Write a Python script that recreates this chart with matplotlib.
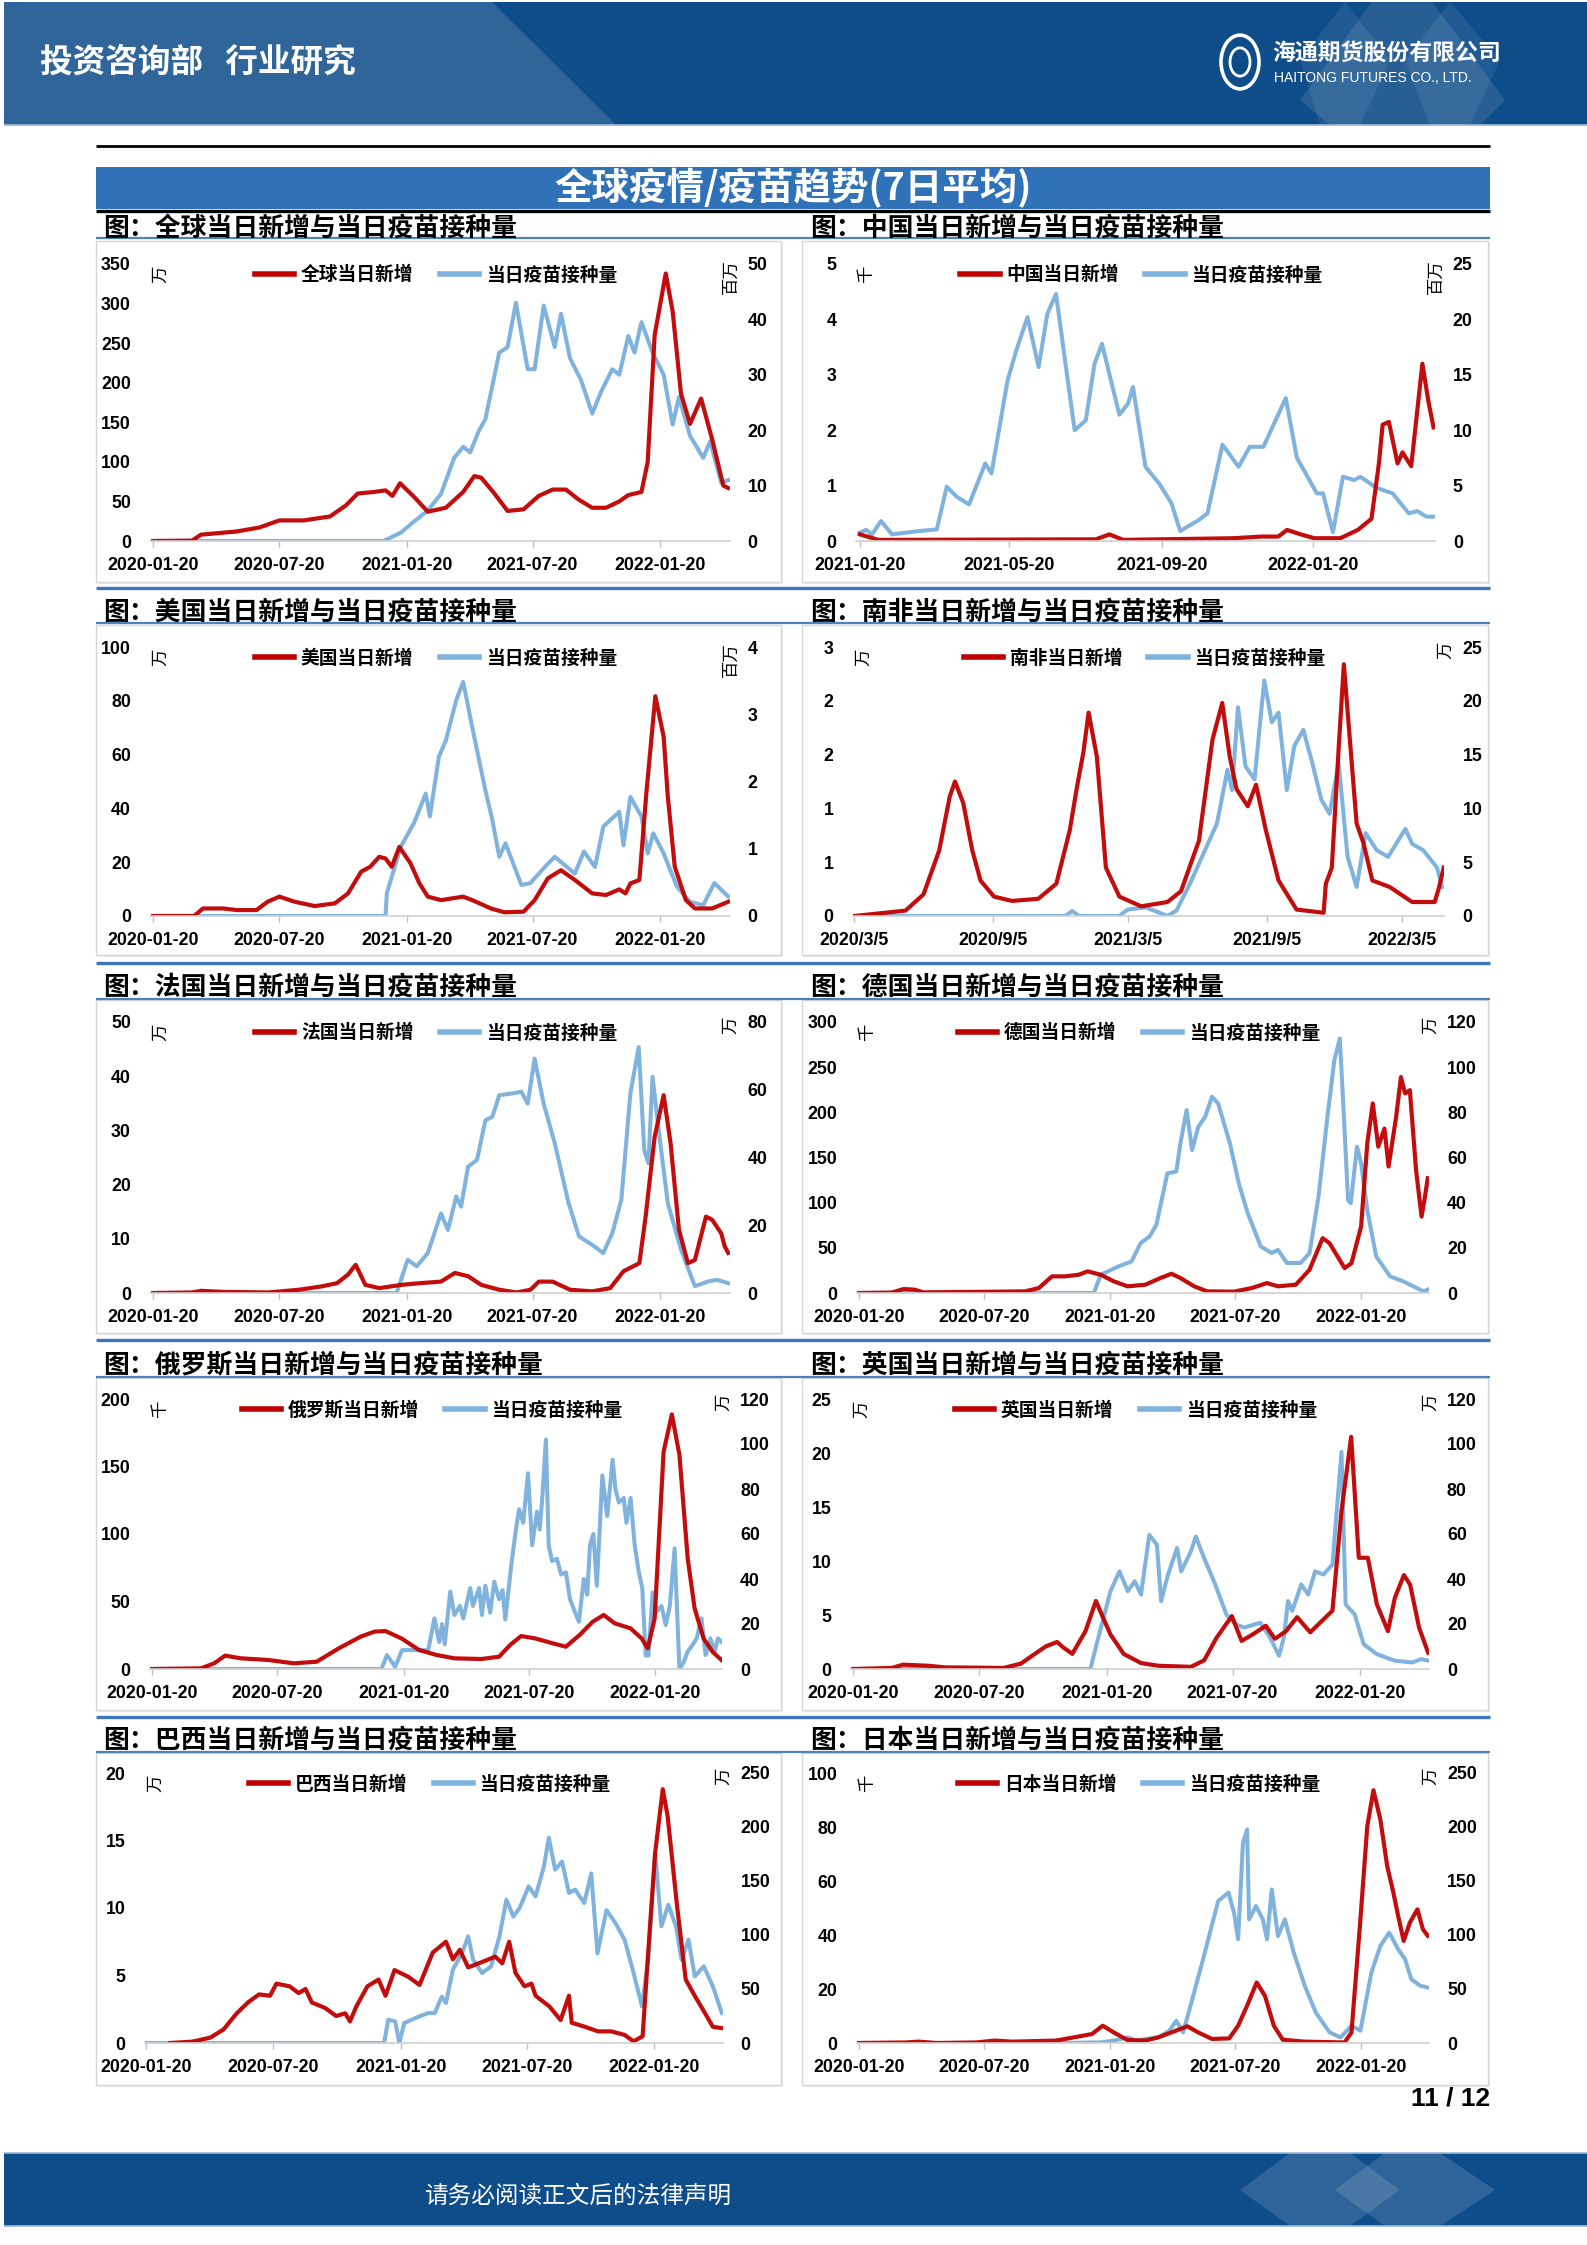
import numpy as np
import matplotlib
matplotlib.use('Agg')
import matplotlib.pyplot as plt
from matplotlib.patches import Rectangle, Polygon, Circle
from matplotlib.lines import Line2D
from matplotlib.font_manager import FontProperties

plt.rcParams['font.family'] = ['Noto Sans CJK SC', 'DejaVu Sans']
plt.rcParams['axes.unicode_minus'] = False
CJK = ['Noto Sans CJK SC', 'DejaVu Sans']
NUM = ['Liberation Sans', 'DejaVu Sans']

# ---------------------------------------------------------------- data
HALF_YEAR_TICKS = ['2020-01-20', '2020-07-20', '2021-01-20', '2021-07-20', '2022-01-20']
CHN_TICKS = ['2021-01-20', '2021-05-20', '2021-09-20', '2022-01-20']
SA_TICKS = ['2020-03-05', '2020-09-05', '2021-03-05', '2021-09-05', '2022-03-05']
SA_TICK_LABELS = ['2020/3/5', '2020/9/5', '2021/3/5', '2021/9/5', '2022/3/5']
SA_LEFT_LABELS = ['0', '1', '1', '2', '2', '3']

# Global (万 / 百万)
GLB_CASE_DATES = ['2020-01-20', '2020-03-16', '2020-03-29', '2020-05-19', '2020-06-21', '2020-07-20', '2020-08-24',
                  '2020-10-01', '2020-10-24', '2020-11-10', '2020-12-04', '2020-12-20', '2020-12-30', '2021-01-10',
                  '2021-01-31', '2021-02-19', '2021-03-17', '2021-04-11', '2021-04-27', '2021-05-07', '2021-05-26',
                  '2021-06-14', '2021-07-07', '2021-07-29', '2021-08-18', '2021-09-06', '2021-09-25', '2021-10-14',
                  '2021-11-03', '2021-11-22', '2021-12-05', '2021-12-24', '2022-01-02', '2022-01-12', '2022-01-28',
                  '2022-02-07', '2022-02-19', '2022-03-04', '2022-03-20', '2022-04-05', '2022-04-21', '2022-04-28']
GLB_CASE = [0, 0.5, 8, 12, 17, 26, 26, 31, 45, 60, 62, 64, 57, 73, 55, 37, 42, 62, 82, 80, 60, 38, 40, 57, 65, 65,
            52, 42, 42, 50, 58, 62, 100, 260, 338, 290, 186, 148, 180, 128, 70, 67]
GLB_VAC_DATES = ['2020-01-20', '2020-12-17', '2021-01-11', '2021-01-30', '2021-02-19', '2021-03-10', '2021-03-29',
                 '2021-04-11', '2021-04-21', '2021-05-04', '2021-05-13', '2021-06-02', '2021-06-14', '2021-06-26',
                 '2021-07-13', '2021-07-23', '2021-08-05', '2021-08-21', '2021-08-30', '2021-09-12', '2021-09-28',
                 '2021-10-14', '2021-10-27', '2021-11-12', '2021-11-22', '2021-12-05', '2021-12-14', '2021-12-24',
                 '2022-01-09', '2022-01-25', '2022-02-07', '2022-02-16', '2022-03-04', '2022-03-23', '2022-04-02',
                 '2022-04-18', '2022-04-28']
GLB_VAC = [0, 0, 1.5, 3.5, 5.5, 8.5, 15, 17, 16, 20, 22, 34, 35, 43, 31, 31, 42.5, 35, 41, 33, 29, 23, 27, 31, 30,
           37, 34, 39.5, 34, 30, 21, 26, 19, 15, 18, 10.5, 11]

# China (千 / 百万)
CHN_CASE_DATES = ['2021-01-20', '2021-02-04', '2021-07-29', '2021-08-09', '2021-08-20', '2021-11-17', '2021-12-09',
                  '2021-12-23', '2021-12-30', '2022-01-10', '2022-01-21', '2022-02-11', '2022-02-25', '2022-03-08',
                  '2022-03-14', '2022-03-17', '2022-03-22', '2022-03-29', '2022-04-02', '2022-04-09', '2022-04-18',
                  '2022-04-23', '2022-04-27']
CHN_CASE = [0.12, 0.02, 0.03, 0.12, 0.02, 0.05, 0.08, 0.08, 0.2, 0.12, 0.05, 0.05, 0.2, 0.4, 1.4, 2.1, 2.15, 1.4,
            1.6, 1.35, 3.2, 2.5, 2.05]
CHN_VAC_DATES = ['2021-01-20', '2021-01-25', '2021-01-30', '2021-02-06', '2021-02-15', '2021-03-09', '2021-03-23',
                 '2021-03-31', '2021-04-08', '2021-04-18', '2021-05-01', '2021-05-06', '2021-05-19', '2021-05-26',
                 '2021-06-04', '2021-06-13', '2021-06-20', '2021-06-27', '2021-07-05', '2021-07-12', '2021-07-21',
                 '2021-07-28', '2021-08-03', '2021-08-17', '2021-08-24', '2021-08-28', '2021-09-07', '2021-09-18',
                 '2021-09-28', '2021-10-05', '2021-10-20', '2021-10-27', '2021-11-08', '2021-11-21', '2021-11-30',
                 '2021-12-11', '2021-12-29', '2022-01-07', '2022-01-23', '2022-01-28', '2022-02-05', '2022-02-13',
                 '2022-02-22', '2022-02-27', '2022-03-12', '2022-03-25', '2022-04-07', '2022-04-14', '2022-04-21',
                 '2022-04-27']
CHN_VAC = [0.75, 1.0, 0.6, 1.8, 0.6, 0.9, 1.05, 4.9, 4.0, 3.3, 7.0, 6.1, 14.5, 17.2, 20.2, 15.7, 20.5, 22.3, 15.7,
           10.0, 10.9, 16, 17.8, 11.4, 12.4, 13.9, 6.7, 5.2, 3.4, 0.9, 1.9, 2.5, 8.7, 6.7, 8.5, 8.5, 12.9, 7.5, 4.3,
           4.3, 0.8, 5.8, 5.5, 5.8, 4.8, 4.3, 2.5, 2.7, 2.2, 2.2]

# USA (万 / 百万)
USA_CASE_DATES = ['2020-01-20', '2020-03-19', '2020-04-01', '2020-04-30', '2020-05-20', '2020-06-17', '2020-07-03',
                  '2020-07-20', '2020-08-11', '2020-09-09', '2020-10-08', '2020-10-27', '2020-11-15', '2020-11-28',
                  '2020-12-11', '2020-12-20', '2020-12-29', '2021-01-09', '2021-01-25', '2021-02-07', '2021-02-19',
                  '2021-03-10', '2021-04-11', '2021-04-24', '2021-05-21', '2021-06-09', '2021-07-07', '2021-07-23',
                  '2021-08-11', '2021-08-30', '2021-09-19', '2021-10-14', '2021-11-03', '2021-11-22', '2021-12-01',
                  '2021-12-08', '2021-12-21', '2021-12-31', '2022-01-13', '2022-01-25', '2022-01-31', '2022-02-10',
                  '2022-02-26', '2022-03-11', '2022-04-05', '2022-04-28']
USA_CASE = [0, 0, 2.8, 2.8, 2.2, 2.2, 5.3, 7.2, 5.3, 3.7, 4.7, 8.4, 16.5, 18.3, 22, 21.4, 18.3, 25.7, 19.6, 12.1,
            7.2, 5.9, 7.2, 5.9, 2.8, 1.4, 1.6, 5.9, 14, 17, 13.4, 8.4, 7.8, 9.9, 8.4, 12.1, 13.4, 45.5, 81.7, 66.6,
            44.3, 18.3, 5.9, 2.8, 2.8, 5.3]
USA_VAC_DATES = ['2020-01-20', '2020-12-20', '2020-12-22', '2021-01-11', '2021-01-30', '2021-02-16', '2021-02-22',
                 '2021-03-07', '2021-03-17', '2021-04-01', '2021-04-11', '2021-04-24', '2021-05-13', '2021-05-23',
                 '2021-06-02', '2021-06-11', '2021-07-04', '2021-07-17', '2021-08-05', '2021-08-21', '2021-09-19',
                 '2021-10-02', '2021-10-18', '2021-10-30', '2021-11-22', '2021-11-28', '2021-12-08', '2021-12-24',
                 '2022-01-02', '2022-01-10', '2022-01-25', '2022-02-13', '2022-03-04', '2022-03-23', '2022-04-08',
                 '2022-04-28']
USA_VAC = [0, 0, 0.34, 1.03, 1.38, 1.82, 1.48, 2.37, 2.61, 3.21, 3.48, 2.81, 1.87, 1.43, 0.88, 1.08, 0.46, 0.49,
           0.71, 0.88, 0.63, 0.96, 0.73, 1.33, 1.55, 1.05, 1.77, 1.48, 0.93, 1.23, 0.93, 0.44, 0.21, 0.16, 0.49, 0.29]

# South Africa (万 / 万)
ZAF_CASE_DATES = ['2020-03-05', '2020-05-12', '2020-06-05', '2020-06-26', '2020-07-10', '2020-07-17', '2020-07-28',
                  '2020-08-09', '2020-08-20', '2020-09-07', '2020-10-01', '2020-11-05', '2020-11-29', '2020-12-17',
                  '2020-12-26', '2021-01-04', '2021-01-11', '2021-01-22', '2021-02-03', '2021-02-21', '2021-03-22',
                  '2021-04-26', '2021-05-14', '2021-06-07', '2021-06-25', '2021-07-08', '2021-07-18', '2021-07-27',
                  '2021-08-11', '2021-08-22', '2021-09-04', '2021-09-21', '2021-10-15', '2021-11-20', '2021-11-23',
                  '2021-12-01', '2021-12-10', '2021-12-17', '2021-12-25', '2022-01-03', '2022-01-12', '2022-01-24',
                  '2022-02-16', '2022-03-18', '2022-04-17', '2022-04-23', '2022-04-29']
ZAF_CASE = [0, 0.05, 0.2, 0.61, 1.11, 1.25, 1.05, 0.61, 0.33, 0.18, 0.14, 0.16, 0.3, 0.8, 1.18, 1.52, 1.89, 1.48,
            0.45, 0.18, 0.09, 0.13, 0.23, 0.7, 1.64, 1.98, 1.48, 1.18, 1.02, 1.22, 0.8, 0.33, 0.06, 0.03, 0.3, 0.45,
            1.55, 2.34, 1.64, 0.86, 0.68, 0.33, 0.27, 0.13, 0.13, 0.27, 0.45]
ZAF_VAC_DATES = ['2020-03-05', '2020-12-11', '2020-12-20', '2020-12-29', '2021-02-21', '2021-03-04', '2021-03-28',
                 '2021-04-08', '2021-04-26', '2021-05-08', '2021-05-26', '2021-06-13', '2021-07-01', '2021-07-15',
                 '2021-07-21', '2021-07-29', '2021-08-08', '2021-08-20', '2021-09-02', '2021-09-12', '2021-09-21',
                 '2021-10-02', '2021-10-12', '2021-10-24', '2021-11-05', '2021-11-17', '2021-11-28', '2021-12-10',
                 '2021-12-22', '2022-01-03', '2022-01-15', '2022-01-30', '2022-02-14', '2022-03-09', '2022-03-18',
                 '2022-04-02', '2022-04-20', '2022-04-27']
ZAF_VAC = [0, 0, 0.47, 0, 0, 0.6, 0.8, 0.5, 0, 0.5, 3, 5.8, 8.6, 13.6, 11.7, 19.4, 13.9, 12.7, 21.9, 18, 18.9, 11.7,
           15.8, 17.3, 14.2, 10.8, 9.5, 14.2, 5.5, 2.7, 7.7, 6.1, 5.5, 8.1, 6.7, 6.1, 4.5, 2.7]

# France (万 / 万)
FRA_CASE_DATES = ['2020-01-20', '2020-03-16', '2020-03-29', '2020-05-01', '2020-07-04', '2020-08-17', '2020-09-18',
                  '2020-10-11', '2020-10-27', '2020-11-07', '2020-11-21', '2020-12-11', '2021-01-12', '2021-02-06',
                  '2021-03-10', '2021-03-30', '2021-04-18', '2021-05-07', '2021-06-02', '2021-06-27', '2021-07-17',
                  '2021-07-29', '2021-08-18', '2021-09-12', '2021-10-14', '2021-11-09', '2021-11-28', '2021-12-21',
                  '2021-12-30', '2022-01-12', '2022-01-25', '2022-02-04', '2022-02-16', '2022-03-01', '2022-03-11',
                  '2022-03-27', '2022-04-05', '2022-04-18', '2022-04-23', '2022-04-28']
FRA_CASE = [0, 0.1, 0.4, 0.2, 0.1, 0.6, 1.2, 1.8, 3.4, 5.2, 1.5, 0.9, 1.5, 1.8, 2.1, 3.7, 3.1, 1.5, 0.6, 0.1, 0.6,
            2.1, 2.1, 0.6, 0.3, 0.9, 4, 5.5, 14.1, 28.8, 36.5, 27.6, 11.7, 5.5, 6.1, 14.1, 13.5, 11, 8.6, 7.4]
FRA_VAC_DATES = ['2020-01-20', '2021-01-05', '2021-01-21', '2021-02-03', '2021-02-19', '2021-03-10', '2021-03-20',
                 '2021-04-01', '2021-04-08', '2021-04-18', '2021-05-01', '2021-05-13', '2021-05-23', '2021-06-02',
                 '2021-06-21', '2021-07-04', '2021-07-13', '2021-07-23', '2021-08-05', '2021-08-21', '2021-09-10',
                 '2021-09-25', '2021-10-14', '2021-10-30', '2021-11-12', '2021-11-25', '2021-12-08', '2021-12-20',
                 '2021-12-28', '2022-01-03', '2022-01-09', '2022-01-19', '2022-01-31', '2022-02-19', '2022-03-11',
                 '2022-03-30', '2022-04-12', '2022-04-28']
FRA_VAC = [0, 0, 9.8, 7.9, 11.8, 23.5, 18.6, 28.5, 25.5, 37.3, 39.3, 51, 52, 58.4, 58.9, 59.4, 55.9, 69.2, 55.9,
           44.2, 26.5, 16.7, 14.2, 11.8, 17.7, 27.5, 58.9, 72.6, 42.2, 38.3, 63.8, 46.1, 26.5, 12.8, 2, 3.4, 3.9, 2.9]

# Germany (千 / 万)
DEU_CASE_DATES = ['2020-01-20', '2020-03-08', '2020-03-25', '2020-04-10', '2020-04-23', '2020-09-18', '2020-10-08',
                  '2020-10-27', '2020-11-15', '2020-12-05', '2020-12-18', '2021-01-06', '2021-01-25', '2021-02-14',
                  '2021-03-12', '2021-04-03', '2021-04-19', '2021-05-02', '2021-05-22', '2021-06-10', '2021-07-19',
                  '2021-08-14', '2021-09-05', '2021-09-21', '2021-10-17', '2021-11-06', '2021-11-25', '2021-12-05',
                  '2021-12-27', '2022-01-06', '2022-01-20', '2022-01-29', '2022-02-06', '2022-02-14', '2022-02-23',
                  '2022-03-01', '2022-03-12', '2022-03-19', '2022-03-25', '2022-04-01', '2022-04-10', '2022-04-18',
                  '2022-04-23', '2022-04-27']
DEU_CASE = [0, 0.5, 4.4, 3.7, 0.7, 1.8, 5.5, 18.4, 18.4, 20.2, 24, 20.2, 12.9, 7.4, 9.2, 16.6, 21.3, 16.6, 7.4, 1.8,
            1.5, 5.5, 11, 7.4, 9.2, 25.8, 60.7, 55.2, 27.6, 33, 73.6, 165.6, 209.8, 162, 182, 140, 195, 239, 221,
            224.5, 136, 84.6, 106.7, 127]
DEU_VAC_DATES = ['2020-01-20', '2020-12-27', '2021-01-06', '2021-02-01', '2021-02-20', '2021-03-05', '2021-03-18',
                 '2021-03-28', '2021-04-13', '2021-04-26', '2021-05-02', '2021-05-11', '2021-05-19', '2021-05-28',
                 '2021-06-07', '2021-06-17', '2021-06-26', '2021-07-13', '2021-07-26', '2021-08-08', '2021-08-27',
                 '2021-09-12', '2021-09-21', '2021-10-04', '2021-10-24', '2021-11-06', '2021-11-19', '2021-12-02',
                 '2021-12-12', '2021-12-20', '2021-12-25', '2022-01-01', '2022-01-05', '2022-01-14', '2022-01-20',
                 '2022-01-29', '2022-02-11', '2022-03-03', '2022-03-22', '2022-04-11', '2022-04-21', '2022-04-27']
DEU_VAC = [0, 0, 8.1, 11.8, 14, 22.1, 25, 30.2, 53, 53.8, 66.3, 81, 63.3, 73.6, 78, 86.9, 83.9, 66.3, 48.6, 35.3,
           20.6, 17.7, 19.1, 13.3, 13.3, 17.7, 42.7, 78, 103, 112.7, 84, 41.2, 39.8, 64.8, 57.4, 36.8, 16.2, 7.4,
           5.2, 2.2, 0.7, 1.5]

# Russia (千 / 万)
RUS_CASE_DATES = ['2020-01-20', '2020-03-31', '2020-04-19', '2020-05-05', '2020-05-28', '2020-07-06', '2020-08-13',
                  '2020-09-15', '2020-10-17', '2020-11-18', '2020-12-08', '2020-12-24', '2021-01-16', '2021-02-11',
                  '2021-03-08', '2021-04-03', '2021-05-12', '2021-06-07', '2021-06-23', '2021-07-09', '2021-07-29',
                  '2021-08-24', '2021-09-12', '2021-10-02', '2021-10-21', '2021-11-06', '2021-11-22', '2021-12-15',
                  '2021-12-31', '2022-01-09', '2022-01-19', '2022-02-01', '2022-02-13', '2022-02-24', '2022-03-08',
                  '2022-03-18', '2022-03-31', '2022-04-13', '2022-04-26']
RUS_CASE = [0, 0.5, 4.2, 9.9, 7.9, 6.7, 4.2, 5.4, 15.3, 24, 27.7, 28.1, 22.7, 14, 10.4, 7.9, 7.4, 9.1, 17.8, 24.4,
            22.7, 19, 16.5, 25.2, 35, 40, 33.8, 30.1, 22.7, 15.3, 37.5, 161, 188.6, 158.5, 82, 45, 22.7, 12.8, 6.7]
RUS_VAC_DATES = ['2020-01-20', '2020-12-18', '2020-12-26', '2021-01-07', '2021-01-17', '2021-02-24', '2021-03-05',
                 '2021-03-12', '2021-03-16', '2021-03-20', '2021-03-28', '2021-04-03', '2021-04-11', '2021-04-16',
                 '2021-04-26', '2021-04-30', '2021-05-09', '2021-05-13', '2021-05-18', '2021-05-25', '2021-05-31',
                 '2021-06-07', '2021-06-12', '2021-06-16', '2021-06-25', '2021-07-01', '2021-07-06', '2021-07-12',
                 '2021-07-19', '2021-07-25', '2021-08-01', '2021-08-05', '2021-08-09', '2021-08-14', '2021-08-18',
                 '2021-08-23', '2021-08-30', '2021-09-05', '2021-09-12', '2021-09-18', '2021-09-25', '2021-10-01',
                 '2021-10-08', '2021-10-13', '2021-10-17', '2021-10-22', '2021-10-27', '2021-11-04', '2021-11-11',
                 '2021-11-19', '2021-11-23', '2021-11-28', '2021-12-05', '2021-12-09', '2021-12-15', '2021-12-21',
                 '2021-12-27', '2022-01-01', '2022-01-06', '2022-01-10', '2022-01-16', '2022-01-22', '2022-01-29',
                 '2022-02-04', '2022-02-10', '2022-02-17', '2022-02-20', '2022-02-24', '2022-03-02', '2022-03-08',
                 '2022-03-15', '2022-03-21', '2022-03-28', '2022-04-03', '2022-04-10', '2022-04-16', '2022-04-21',
                 '2022-04-26']
RUS_VAC = [0, 0, 6.2, 1, 8.4, 8.4, 22.5, 12, 20, 11, 34.4, 24, 28, 22.5, 36, 28, 36, 24, 37, 25, 38.8, 31, 35, 22,
           47, 61, 71, 65, 87, 55, 70, 62, 77, 102, 55, 48, 49, 42, 43, 31, 25.5, 21, 40, 33, 55, 60, 37, 86, 68, 93,
           80, 74, 76, 65, 76, 55, 43, 36, 6, 6, 34, 25.5, 28, 19.5, 28, 53.6, 30, 0, 3, 7.7, 10.7, 13.6, 22.5, 6.2,
           13.6, 7.7, 13.6, 12.1]

# UK (万 / 万)
GBR_CASE_DATES = ['2020-01-20', '2020-03-16', '2020-04-01', '2020-05-07', '2020-06-01', '2020-08-24', '2020-09-18',
                  '2020-10-08', '2020-10-24', '2020-11-09', '2020-11-18', '2020-12-01', '2020-12-20', '2021-01-04',
                  '2021-01-12', '2021-01-25', '2021-02-13', '2021-03-10', '2021-04-04', '2021-05-21', '2021-06-09',
                  '2021-06-27', '2021-07-19', '2021-08-02', '2021-08-18', '2021-09-06', '2021-09-19', '2021-10-05',
                  '2021-10-21', '2021-11-09', '2021-11-25', '2021-12-11', '2021-12-24', '2022-01-07', '2022-01-18',
                  '2022-01-31', '2022-02-13', '2022-03-01', '2022-03-11', '2022-03-24', '2022-04-02', '2022-04-15',
                  '2022-04-28']
GBR_CASE = [0, 0.1, 0.4, 0.3, 0.15, 0.1, 0.5, 1.4, 2.1, 2.5, 2, 1.4, 3.5, 6.3, 5.1, 3.2, 1.4, 0.55, 0.3, 0.2, 0.8,
            2.9, 4.9, 2.6, 3.2, 4, 2.8, 3.5, 4.8, 3.4, 4.4, 5.4, 14.6, 21.5, 10.3, 10.3, 6, 3.5, 6.6, 8.7, 7.8, 3.8,
            1.5]
GBR_VAC_DATES = ['2020-01-20', '2020-12-27', '2021-01-05', '2021-01-25', '2021-02-07', '2021-02-19', '2021-03-01',
                 '2021-03-10', '2021-03-22', '2021-04-02', '2021-04-08', '2021-04-18', '2021-05-01', '2021-05-07',
                 '2021-05-21', '2021-05-28', '2021-06-09', '2021-06-25', '2021-07-11', '2021-07-24', '2021-08-06',
                 '2021-08-29', '2021-09-12', '2021-09-25', '2021-10-02', '2021-10-08', '2021-10-14', '2021-10-27',
                 '2021-11-06', '2021-11-16', '2021-11-28', '2021-12-11', '2021-12-24', '2021-12-30', '2022-01-12',
                 '2022-01-25', '2022-02-13', '2022-03-11', '2022-04-05', '2022-04-18', '2022-04-28']
GBR_VAC = [0, 0, 11, 34.6, 43.4, 34.6, 39, 33.1, 59.6, 55.2, 30.2, 42, 53.8, 43.4, 52.3, 58.9, 49.3, 37.6, 24.3,
           19.9, 18.4, 20.6, 14, 5.9, 14, 30.2, 25.8, 37.6, 33.1, 43.4, 42, 46.4, 96.5, 28.7, 24.3, 11, 6.6, 3.7, 2.9,
           4.4, 3.7]

# Brazil (万 / 万)
BRA_CASE_DATES = ['2020-02-23', '2020-03-26', '2020-04-21', '2020-05-10', '2020-05-29', '2020-06-14', '2020-06-30',
                  '2020-07-16', '2020-07-25', '2020-08-13', '2020-08-26', '2020-09-05', '2020-09-14', '2020-10-03',
                  '2020-10-19', '2020-11-01', '2020-11-08', '2020-11-17', '2020-12-03', '2020-12-19', '2020-12-29',
                  '2021-01-11', '2021-01-31', '2021-02-16', '2021-03-07', '2021-03-26', '2021-04-05', '2021-04-15',
                  '2021-04-27', '2021-05-17', '2021-06-05', '2021-06-15', '2021-06-25', '2021-07-04', '2021-07-17',
                  '2021-07-27', '2021-08-02', '2021-08-22', '2021-09-07', '2021-09-19', '2021-09-23', '2021-10-12',
                  '2021-10-31', '2021-11-19', '2021-12-08', '2021-12-21', '2022-01-03', '2022-01-11', '2022-01-21',
                  '2022-02-01', '2022-02-08', '2022-02-21', '2022-03-06', '2022-03-19', '2022-04-04', '2022-04-14',
                  '2022-04-27']
BRA_CASE = [0, 0.1, 0.4, 1, 2.2, 3, 3.6, 3.5, 4.4, 4.2, 3.7, 4, 3, 2.6, 2, 2.2, 1.6, 2.7, 4.2, 4.7, 3.5, 5.4, 4.9,
            4.3, 6.7, 7.5, 6.2, 6.9, 5.6, 6, 6.4, 5.9, 7.5, 5.2, 4.2, 4.4, 3.5, 2.7, 1.7, 3.5, 1.5, 1.2, 0.86, 0.86,
            0.6, 0.12, 0.5, 6.7, 14.1, 18.8, 16.8, 10.4, 4.7, 3.5, 2.1, 1.2, 1.1]
BRA_VAC_DATES = ['2020-01-20', '2020-12-27', '2021-01-02', '2021-01-12', '2021-01-18', '2021-01-25', '2021-02-16',
                 '2021-03-01', '2021-03-10', '2021-03-20', '2021-03-26', '2021-04-05', '2021-04-18', '2021-04-27',
                 '2021-05-04', '2021-05-17', '2021-05-30', '2021-06-11', '2021-06-21', '2021-07-01', '2021-07-10',
                 '2021-07-23', '2021-08-02', '2021-08-14', '2021-08-21', '2021-08-30', '2021-09-09', '2021-09-19',
                 '2021-09-28', '2021-10-11', '2021-10-21', '2021-10-30', '2021-11-12', '2021-11-25', '2021-12-08',
                 '2021-12-21', '2022-01-02', '2022-01-11', '2022-01-21', '2022-01-30', '2022-02-09', '2022-02-20',
                 '2022-02-28', '2022-03-10', '2022-03-19', '2022-04-01', '2022-04-14', '2022-04-27']
BRA_VAC = [0, 0, 21.6, 20, 0, 18.5, 24.7, 27.8, 27.8, 43, 37, 68, 83, 98.8, 77.2, 64.8, 71, 98.8, 132.7, 117, 125,
           145, 135.8, 163.6, 190, 160.5, 168, 139, 142, 129.6, 157, 83, 123, 111, 95.7, 64.8, 34, 77.2, 176, 108,
           128, 108, 77.2, 95.7, 61.7, 71, 52.5, 27.8]

# Japan (千 / 万)
JPN_CASE_DATES = ['2020-01-20', '2020-03-28', '2020-04-16', '2020-05-12', '2020-07-09', '2020-08-04', '2020-08-30',
                  '2020-11-02', '2020-11-28', '2020-12-24', '2021-01-09', '2021-01-25', '2021-02-14', '2021-03-12',
                  '2021-03-31', '2021-04-26', '2021-05-12', '2021-05-28', '2021-06-17', '2021-07-12', '2021-07-25',
                  '2021-08-07', '2021-08-21', '2021-09-02', '2021-09-15', '2021-09-28', '2021-10-30', '2021-12-27',
                  '2022-01-06', '2022-01-19', '2022-01-29', '2022-02-07', '2022-02-17', '2022-02-27', '2022-03-08',
                  '2022-03-15', '2022-03-23', '2022-04-01', '2022-04-12', '2022-04-20', '2022-04-27']
JPN_CASE = [0, 0.2, 0.5, 0, 0.2, 0.9, 0.5, 0.9, 2.1, 3.3, 6.4, 3.9, 1.1, 0.9, 2.1, 4.6, 6.2, 3.9, 1.5, 1.7, 6.4,
            13.8, 22.4, 17.5, 6.4, 1.2, 0.5, 0.2, 3.9, 45.8, 80.3, 93.6, 82.8, 65.5, 55.7, 47, 37.8, 44.6, 49.5,
            42.1, 39.7]
JPN_VAC_DATES = ['2020-01-20', '2020-11-02', '2021-01-06', '2021-01-25', '2021-02-14', '2021-02-27', '2021-03-12',
                 '2021-03-31', '2021-04-16', '2021-04-26', '2021-05-06', '2021-05-18', '2021-06-04', '2021-06-26',
                 '2021-07-11', '2021-07-19', '2021-07-25', '2021-08-01', '2021-08-07', '2021-08-10', '2021-08-20',
                 '2021-08-30', '2021-09-05', '2021-09-12', '2021-09-21', '2021-10-01', '2021-10-14', '2021-10-30',
                 '2021-11-15', '2021-12-05', '2021-12-21', '2022-01-06', '2022-01-19', '2022-02-04', '2022-02-17',
                 '2022-03-02', '2022-03-15', '2022-03-25', '2022-04-03', '2022-04-16', '2022-04-27']
JPN_VAC = [0, 0, 0.6, 2.2, 5.2, 2.2, 3.7, 5.2, 11.4, 20.6, 9.9, 37.6, 77.6, 131.5, 139.2, 120.7, 96, 185.3, 197.7,
           114.5, 126.8, 114.5, 96, 142.2, 99, 114.5, 83.7, 53, 28.3, 9.9, 5.2, 16, 11.4, 65.3, 89.9, 102.2, 86.8,
           77.6, 59.1, 53, 51.4]

# ---------------------------------------------------------------- figure helpers
W, H = 1587, 2245
RED = '#C00000'
BLUE = '#7FB3DE'
DARK = '#0F4D8A'
fig = plt.figure(figsize=(W / 100, H / 100), dpi=100)


def X(x):
    return x / W


def Y(y):
    return 1 - y / H


def frect(x0, y0, x1, y1, z=-5, **kw):
    fig.add_artist(Rectangle((X(x0), Y(y1)), (x1 - x0) / W, (y1 - y0) / H,
                             transform=fig.transFigure, zorder=z, **kw))


def fline(x0, x1, y, lw, color):
    fig.add_artist(Line2D([X(x0), X(x1)], [Y(y), Y(y)], transform=fig.transFigure,
                          lw=lw, color=color, solid_capstyle='butt', zorder=-2))


def fpoly(pts, **kw):
    fig.add_artist(Polygon([(X(a), Y(b)) for a, b in pts], closed=True,
                           transform=fig.transFigure, zorder=-4, **kw))


def D(lst):
    return np.array(lst, dtype='datetime64[D]')


# ---------------------------------------------------------------- page header
frect(4, 2, W, 125, facecolor=DARK, edgecolor='none', z=-6)
fpoly([(4, 2), (492, 2), (616, 125), (4, 125)], facecolor='#30659A', edgecolor='none')
fpoly([(1372, 2), (1432, 2), (1505, 100), (1480, 125), (1330, 125), (1300, 100)],
      facecolor='white', alpha=0.10, edgecolor='none')
fpoly([(1300, 60), (1345, 2), (1390, 60), (1360, 125), (1320, 125)],
      facecolor='white', alpha=0.08, edgecolor='none')
fpoly([(1405, 60), (1450, 2), (1500, 60), (1470, 125), (1430, 125)],
      facecolor='white', alpha=0.08, edgecolor='none')
fline(4, W, 125, 1.2, '#9BB8D8')
fig.text(X(40), Y(62), '投资咨询部   行业研究', color='white', fontsize=23.5, fontweight='bold',
         ha='left', va='center', family=CJK)
fig.add_artist(Circle((X(1240), Y(62)), 19 / W, transform=fig.transFigure, facecolor='none',
                      edgecolor='white', lw=2.6))
fig.add_artist(Circle((X(1240), Y(62)), 10 / W, transform=fig.transFigure, facecolor='none',
                      edgecolor='white', lw=2.0))
fig.text(X(1272), Y(53), '海通期货股份有限公司', color='white', fontsize=16.5, fontweight='bold',
         ha='left', va='center', family=CJK)
fig.text(X(1274), Y(78), 'HAITONG FUTURES CO., LTD.', color='white', fontsize=10,
         ha='left', va='center', family=NUM)

fline(96, 1490, 146, 2.0, 'black')
frect(96, 167, 1490, 209, facecolor='#2F72B8', edgecolor='none')
fig.text(X(793), Y(187), '全球疫情/疫苗趋势(7日平均)', color='white', fontsize=27, fontweight='bold',
         ha='center', va='center', family=CJK)
fline(96, 1490, 210.5, 2.4, 'black')

# ---------------------------------------------------------------- page footer
frect(4, 2153, W, 2226, facecolor=DARK, edgecolor='none', z=-6)
fpoly([(1290, 2153), (1350, 2153), (1400, 2190), (1350, 2226), (1290, 2226), (1240, 2190)],
      facecolor='white', alpha=0.13, edgecolor='none')
fpoly([(1385, 2153), (1440, 2153), (1495, 2190), (1440, 2226), (1385, 2226), (1335, 2190)],
      facecolor='white', alpha=0.13, edgecolor='none')
fline(4, W, 2153, 1.2, '#9BB8D8')
fline(4, W, 2226, 1.2, '#9BB8D8')
fig.text(X(425), Y(2196), '请务必阅读正文后的法律声明', color='white', fontsize=17,
         ha='left', va='center', family=CJK)
fig.text(X(1490), Y(2098), '11 / 12', color='black', fontsize=19, fontweight='bold',
         ha='right', va='center', family=NUM)

# ---------------------------------------------------------------- panel layout
ROW_SUB = [228, 612, 987, 1365, 1740]
ROW_LINE_BELOW = [238, 623, 999, 1377, 1752]
ROW_LINE_ABOVE = [None, 588, 963, 1340, 1717]
ROW_BOX = [(241, 582), (625, 955), (1000, 1333), (1378, 1710), (1753, 2085)]
ROW_AX = [(264, 541), (647, 916), (1022, 1293), (1399, 1669), (1773, 2043)]
COL_BOX = [(96, 781), (802, 1488)]
COL_SUB_X = [103, 810]

for r in range(5):
    if ROW_LINE_ABOVE[r] is not None:
        fline(96, 1490, ROW_LINE_ABOVE[r], 2.4, '#3F76BA')
    fline(96, 1490, ROW_LINE_BELOW[r], 1.6, '#4F81BD')
    for c in range(2):
        x0, x1 = COL_BOX[c]
        y0, y1 = ROW_BOX[r]
        frect(x0 + 2, y0 + 2, x1 + 2, y1 + 2, facecolor='#EDEDED', edgecolor='none', z=-4)
        frect(x0, y0, x1, y1, facecolor='white', edgecolor='#D6D6D6', lw=1.0, z=-3)

P1 = ('2020-01-20', 153.1, 0.6937)
PANELS = [
    dict(c=0, r=0, title='图：全球当日新增与当日疫苗接种量', name='全球当日新增',
         cd=GLB_CASE_DATES, cv=GLB_CASE, vd=GLB_VAC_DATES, vv=GLB_VAC,
         y1=(350, 50), y2=(50, 10), u1='万', u2='百万', ticks=HALF_YEAR_TICKS, tl=HALF_YEAR_TICKS,
         anchor=P1, xlim=('2020-01-16', '2022-04-30')),
    dict(c=1, r=0, title='图：中国当日新增与当日疫苗接种量', name='中国当日新增',
         cd=CHN_CASE_DATES, cv=CHN_CASE, vd=CHN_VAC_DATES, vv=CHN_VAC,
         y1=(5, 1), y2=(25, 5), u1='千', u2='百万', ticks=CHN_TICKS, tl=CHN_TICKS,
         anchor=('2021-01-20', 859.8, 1.2419), xlim=('2021-01-17', '2022-04-28')),
    dict(c=0, r=1, title='图：美国当日新增与当日疫苗接种量', name='美国当日新增',
         cd=USA_CASE_DATES, cv=USA_CASE, vd=USA_VAC_DATES, vv=USA_VAC,
         y1=(100, 20), y2=(4, 1), u1='万', u2='百万', ticks=HALF_YEAR_TICKS, tl=HALF_YEAR_TICKS,
         anchor=P1, xlim=('2020-01-16', '2022-04-30')),
    dict(c=1, r=1, title='图：南非当日新增与当日疫苗接种量', name='南非当日新增',
         cd=ZAF_CASE_DATES, cv=ZAF_CASE, vd=ZAF_VAC_DATES, vv=ZAF_VAC,
         y1=(2.5, 0.5), y2=(25, 5), u1='万', u2='万', ticks=SA_TICKS, tl=SA_TICK_LABELS,
         ylabels1=SA_LEFT_LABELS,
         anchor=('2020-03-05', 854.4, 0.7507), xlim=('2020-03-03', '2022-04-30')),
    dict(c=0, r=2, title='图：法国当日新增与当日疫苗接种量', name='法国当日新增',
         cd=FRA_CASE_DATES, cv=FRA_CASE, vd=FRA_VAC_DATES, vv=FRA_VAC,
         y1=(50, 10), y2=(80, 20), u1='万', u2='万', ticks=HALF_YEAR_TICKS, tl=HALF_YEAR_TICKS,
         anchor=P1, xlim=('2020-01-16', '2022-04-30')),
    dict(c=1, r=2, title='图：德国当日新增与当日疫苗接种量', name='德国当日新增',
         cd=DEU_CASE_DATES, cv=DEU_CASE, vd=DEU_VAC_DATES, vv=DEU_VAC,
         y1=(300, 50), y2=(120, 20), u1='千', u2='万', ticks=HALF_YEAR_TICKS, tl=HALF_YEAR_TICKS,
         anchor=('2020-01-20', 858.9, 0.687), xlim=('2020-01-17', '2022-04-29')),
    dict(c=0, r=3, title='图：俄罗斯当日新增与当日疫苗接种量', name='俄罗斯当日新增',
         cd=RUS_CASE_DATES, cv=RUS_CASE, vd=RUS_VAC_DATES, vv=RUS_VAC,
         y1=(200, 50), y2=(120, 20), u1='千', u2='万', ticks=HALF_YEAR_TICKS, tl=HALF_YEAR_TICKS,
         anchor=('2020-01-20', 152.2, 0.6883), xlim=('2020-01-17', '2022-04-27')),
    dict(c=1, r=3, title='图：英国当日新增与当日疫苗接种量', name='英国当日新增',
         cd=GBR_CASE_DATES, cv=GBR_CASE, vd=GBR_VAC_DATES, vv=GBR_VAC,
         y1=(25, 5), y2=(120, 20), u1='万', u2='万', ticks=HALF_YEAR_TICKS, tl=HALF_YEAR_TICKS,
         anchor=('2020-01-20', 853.1, 0.6937), xlim=('2020-01-17', '2022-04-29')),
    dict(c=0, r=4, title='图：巴西当日新增与当日疫苗接种量', name='巴西当日新增',
         cd=BRA_CASE_DATES, cv=BRA_CASE, vd=BRA_VAC_DATES, vv=BRA_VAC,
         y1=(20, 5), y2=(250, 50), u1='万', u2='万', ticks=HALF_YEAR_TICKS, tl=HALF_YEAR_TICKS,
         anchor=('2020-01-20', 146.4, 0.695), xlim=('2020-01-18', '2022-04-28')),
    dict(c=1, r=4, title='图：日本当日新增与当日疫苗接种量', name='日本当日新增',
         cd=JPN_CASE_DATES, cv=JPN_CASE, vd=JPN_VAC_DATES, vv=JPN_VAC,
         y1=(100, 20), y2=(250, 50), u1='千', u2='万', ticks=HALF_YEAR_TICKS, tl=HALF_YEAR_TICKS,
         anchor=('2020-01-20', 858.9, 0.687), xlim=('2020-01-17', '2022-04-29')),
]

TICK_FP = FontProperties(family=NUM, weight='bold', size=12.8)
LEG_FP = FontProperties(family=CJK, weight='bold', size=13.5)

for p in PANELS:
    c, r = p['c'], p['r']
    a_date, a_px, ppd = p['anchor']
    a_d = np.datetime64(a_date)
    x0d, x1d = np.datetime64(p['xlim'][0]), np.datetime64(p['xlim'][1])
    xl = a_px + (x0d - a_d).astype(int) * ppd
    xr = a_px + (x1d - a_d).astype(int) * ppd
    ytop, yzero = ROW_AX[r]

    fig.text(X(COL_SUB_X[c]), Y(ROW_SUB[r]), p['title'], fontsize=18.6, fontweight='bold',
             ha='left', va='center', family=CJK, color='black')

    ax = fig.add_axes([X(xl), Y(yzero), (xr - xl) / W, (yzero - ytop) / H])
    ax2 = ax.twinx()
    ax2.set_zorder(2)
    ax.set_zorder(3)
    ax.patch.set_visible(False)
    ax2.patch.set_visible(False)

    ax2.plot(D(p['vd']), p['vv'], color=BLUE, lw=2.9, solid_joinstyle='round')
    ax.plot(D(p['cd']), p['cv'], color=RED, lw=3.0, solid_joinstyle='round', alpha=0.95)

    ax.set_xlim(x0d, x1d)
    ymax1, st1 = p['y1']
    ymax2, st2 = p['y2']
    ax.set_ylim(0, ymax1)
    ax2.set_ylim(0, ymax2)
    t1 = np.arange(0, ymax1 + st1 / 2, st1)
    t2 = np.arange(0, ymax2 + st2 / 2, st2)
    ax.set_yticks(t1)
    if 'ylabels1' in p:
        ax.set_yticklabels(p['ylabels1'])
    else:
        ax.set_yticklabels([f'{v:g}' for v in t1])
    ax2.set_yticks(t2)
    ax2.set_yticklabels([f'{v:g}' for v in t2])
    ax.set_xticks(D(p['ticks']))
    ax.set_xticklabels(p['tl'])

    for a in (ax, ax2):
        for s in a.spines.values():
            s.set_visible(False)
    ax.spines['bottom'].set_visible(True)
    ax.spines['bottom'].set_color('#D0D0D0')
    ax.spines['bottom'].set_linewidth(1.2)

    ax.tick_params(axis='y', length=0, pad=14)
    ax2.tick_params(axis='y', length=0, pad=13)
    ax.tick_params(axis='x', length=4, width=1, color='#BFBFBF', direction='out', pad=7.5)
    for lab in ax.get_yticklabels() + ax2.get_yticklabels() + ax.get_xticklabels():
        lab.set_fontproperties(TICK_FP)
        lab.set_color('black')

    fig.text(X(xl + 10), Y(ytop + 10), p['u1'], rotation=90, fontsize=12.5, ha='center', va='center',
             family=CJK, color='black')
    fig.text(X(xr + 1), Y(ytop - 5), p['u2'], rotation=90, fontsize=12.5, ha='center', va='top',
             family=CJK, color='black')

    handles = [Line2D([], [], color=RED, lw=4), Line2D([], [], color=BLUE, lw=4)]
    leg = ax.legend(handles, [p['name'], '当日疫苗接种量'], loc='center',
                    bbox_to_anchor=(X((xl + xr) / 2 - 4), Y(ytop + 11)), bbox_transform=fig.transFigure,
                    ncol=2, frameon=False, prop=LEG_FP, handlelength=2.1, handletextpad=0.35,
                    columnspacing=1.4, borderpad=0, borderaxespad=0)

fig.savefig('out.png', dpi=100)
